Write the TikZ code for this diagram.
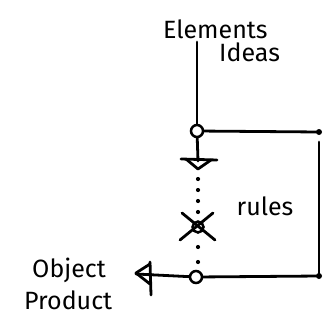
\documentclass[tikz,border=0pt]{standalone}
\usepackage{fontspec}
\setmainfont{Fira Sans}
\begin{document}
\begin{tikzpicture}[x=1pt,y=-1pt,
  ink/.style={line width=2.8pt,line cap=round,line join=round},
  ring/.style={circle,draw,line width=2.5pt,inner sep=0pt,minimum size=12pt},
  hand/.style={font=\fontsize{25}{26}\selectfont,inner sep=0pt,align=left},
  dotmark/.style={circle,fill,inner sep=0pt,minimum size=4.2pt}]
\useasboundingbox (0,0) rectangle (331,326);
% labels
\node[hand,anchor=west] (elem) at (163,29) {Elements};
\node[hand,anchor=west] (ideas) at (219,52) {Ideas};
\node[hand] (rules) at (265,206) {rules};
\node[hand,anchor=west] (obj) at (32,270) {Object};
\node[hand,anchor=west] (prod) at (24,300) {Product};
% key points
\coordinate (top) at (197,42);
\node[ring] (tc) at (197,131) {};
\node[ring] (bc) at (196,277) {};
\coordinate (tr) at (319,132);
\coordinate (trs) at (319,142);
\coordinate (br) at (319,276);
\coordinate (da) at (198,161);
\coordinate (la) at (136,274);
% lines
\draw[ink] (top) -- (tc);
\draw[ink] (tc) -- (tr);
\fill (tr) circle (3pt);
\draw[ink] (trs) -- (br);
\fill (br) circle (3pt);
\draw[ink] (br) -- (bc);
\draw[ink] (bc) -- (la);
\draw[ink] (tc) -- (da);
% down arrow tip
\draw[ink] (181,159) -- (217,160);
\draw[ink] (186,159) -- (198,169) -- (211,160);
% crossed circle
\node[ring,minimum size=11pt] (xc) at (198,227) {};
\draw[ink] (182,213) -- (215,240);
\draw[ink] (213,213) -- (180,240);
% left arrow tip
\draw[ink] (150,262) -- (151,295);
\draw[ink] (150,264) -- (136,273) -- (150,284);
% dots
\foreach \y in {179,190,201,212,247,262}
  \node[dotmark] at (198,\y) {};
\end{tikzpicture}
\end{document}
